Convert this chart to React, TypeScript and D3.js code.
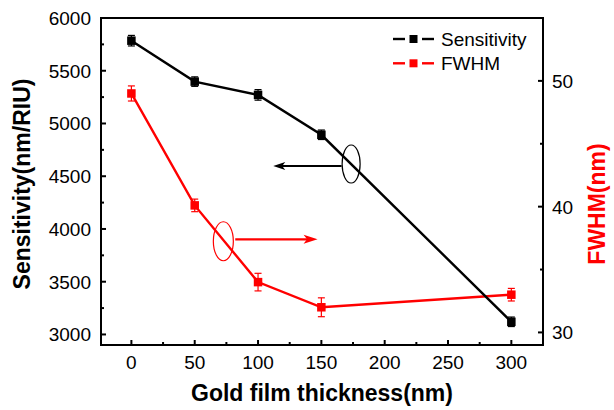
import React from "react";
import * as d3 from "d3";

const thickness = [0, 50, 100, 150, 300];
const sensitivity = [5785, 5397, 5271, 4893, 3120];
const sensitivityErr = [50, 45, 50, 45, 45];
const fwhm = [49.0, 40.1, 34.0, 32.0, 33.0];
const fwhmErr = [0.6, 0.5, 0.7, 0.75, 0.5];

const xTicks = [0, 50, 100, 150, 200, 250, 300];
const xMinor = [25, 75, 125, 175, 225, 275];
const yLeftTicks = [3000, 3500, 4000, 4500, 5000, 5500, 6000];
const yLeftMinor = [3250, 3750, 4250, 4750, 5250, 5750];
const yRightTicks = [30, 40, 50];
const yRightMinor = [35, 45];

const legendLabels = ["Sensitivity", "FWHM"];
const xTitle = "Gold film thickness(nm)";
const yLeftTitle = "Sensitivity(nm/RIU)";
const yRightTitle = "FWHM(nm)";

// annotation anchors (in data units)
const blackEllipse = { x: 173.5, y: 4616 };
const blackArrow = { x1: 166, x2: 112, y: 4597 };
const redEllipse = { x: 72.6, y: 37.25 };
const redArrow = { x1: 82, x2: 147, y: 37.4 };

const W = 614;
const H = 410;
const L = 101, R = 543, T = 18, B = 345;
const FONT = "'Liberation Sans', Arial, sans-serif";

export default function App() {
  const x = d3.scaleLinear().domain([-24, 325]).range([L, R]);
  const yL = d3.scaleLinear().domain([2900, 6000]).range([B, T]);
  const yR = d3.scaleLinear().domain([29, 55]).range([B, T]);

  const sensPts = thickness.map((t, i) => [x(t), yL(sensitivity[i])] as [number, number]);
  const fwhmPts = thickness.map((t, i) => [x(t), yR(fwhm[i])] as [number, number]);
  const line = d3.line();

  const ms = 8.5;
  const cap = 3.5;

  const renderSeries = (
    pts: [number, number][],
    errTop: number[],
    errBot: number[],
    color: string
  ) => (
    <g>
      <path d={line(pts) || ""} fill="none" stroke={color} strokeWidth={2.4} />
      {pts.map((p, i) => (
        <g key={i}>
          <line x1={p[0]} x2={p[0]} y1={errTop[i]} y2={errBot[i]} stroke={color} strokeWidth={1.2} />
          <line x1={p[0] - cap} x2={p[0] + cap} y1={errTop[i]} y2={errTop[i]} stroke={color} strokeWidth={1.2} />
          <line x1={p[0] - cap} x2={p[0] + cap} y1={errBot[i]} y2={errBot[i]} stroke={color} strokeWidth={1.2} />
          <rect x={p[0] - ms / 2} y={p[1] - ms / 2} width={ms} height={ms} fill={color} />
        </g>
      ))}
    </g>
  );

  const arrowHead = (tipX: number, y: number, dir: number, len: number, half: number, color: string) => (
    <path
      d={`M${tipX},${y} L${tipX - dir * len},${y - half} L${tipX - dir * len * 0.75},${y} L${tipX - dir * len},${y + half} Z`}
      fill={color}
    />
  );

  const bax1 = x(blackArrow.x1), bax2 = x(blackArrow.x2), bay = yL(blackArrow.y);
  const rax1 = x(redArrow.x1), rax2 = x(redArrow.x2), ray = yR(redArrow.y);

  return (
    <svg
      width={W}
      height={H}
      style={{ position: "absolute", left: 0, top: 0, background: "#fff" }}
      fontFamily={FONT}
    >
      <rect x={0} y={0} width={W} height={H} fill="#fff" />

      {/* series */}
      {renderSeries(
        fwhmPts,
        thickness.map((_, i) => yR(fwhm[i] + fwhmErr[i])),
        thickness.map((_, i) => yR(fwhm[i] - fwhmErr[i])),
        "#ff0000"
      )}
      {renderSeries(
        sensPts,
        thickness.map((_, i) => yL(sensitivity[i] + sensitivityErr[i])),
        thickness.map((_, i) => yL(sensitivity[i] - sensitivityErr[i])),
        "#000000"
      )}

      {/* annotations */}
      <ellipse cx={x(blackEllipse.x)} cy={yL(blackEllipse.y)} rx={9} ry={19} fill="none" stroke="#000" strokeWidth={1.2} />
      <line x1={bax1} x2={bax2 + 8} y1={bay} y2={bay} stroke="#000" strokeWidth={1.8} />
      {arrowHead(bax2, bay, -1, 12, 4, "#000")}

      <ellipse cx={x(redEllipse.x)} cy={yR(redEllipse.y)} rx={10} ry={19.5} fill="none" stroke="#ff0000" strokeWidth={1.2} />
      <line x1={rax1} x2={rax2 - 8} y1={ray} y2={ray} stroke="#ff0000" strokeWidth={2.4} />
      {arrowHead(rax2, ray, 1, 14, 4.5, "#ff0000")}

      {/* frame */}
      <rect x={L} y={T} width={R - L} height={B - T} fill="none" stroke="#000" strokeWidth={2} />

      {/* x ticks */}
      {xTicks.map((t) => (
        <g key={"xt" + t}>
          <line x1={x(t)} x2={x(t)} y1={B} y2={B - 5} stroke="#000" strokeWidth={2} />
          <text x={x(t)} y={369} textAnchor="middle" fontSize={19} fill="#000">
            {t}
          </text>
        </g>
      ))}
      {xMinor.map((t) => (
        <line key={"xm" + t} x1={x(t)} x2={x(t)} y1={B} y2={B - 3} stroke="#000" strokeWidth={2} />
      ))}

      {/* left ticks */}
      {yLeftTicks.map((t) => (
        <g key={"yl" + t}>
          <line x1={L} x2={L + 5} y1={yL(t)} y2={yL(t)} stroke="#000" strokeWidth={2} />
          <text x={91} y={yL(t) + 7} textAnchor="end" fontSize={19} fill="#000">
            {t}
          </text>
        </g>
      ))}
      {yLeftMinor.map((t) => (
        <line key={"ylm" + t} x1={L} x2={L + 3} y1={yL(t)} y2={yL(t)} stroke="#000" strokeWidth={2} />
      ))}

      {/* right ticks */}
      {yRightTicks.map((t) => (
        <g key={"yr" + t}>
          <line x1={R} x2={R - 5} y1={yR(t)} y2={yR(t)} stroke="#000" strokeWidth={2} />
          <text x={552} y={yR(t) + 7} textAnchor="start" fontSize={19} fill="#000">
            {t}
          </text>
        </g>
      ))}
      {yRightMinor.map((t) => (
        <line key={"yrm" + t} x1={R} x2={R - 3} y1={yR(t)} y2={yR(t)} stroke="#000" strokeWidth={2} />
      ))}

      {/* titles */}
      <text x={(L + R) / 2} y={401} textAnchor="middle" fontSize={23} fontWeight="bold" fill="#000">
        {xTitle}
      </text>
      <text
        transform={`translate(30,184) rotate(-90)`}
        textAnchor="middle"
        fontSize={23}
        fontWeight="bold"
        fill="#000"
      >
        {yLeftTitle}
      </text>
      <text
        transform={`translate(605,204) rotate(-90)`}
        textAnchor="middle"
        fontSize={23}
        fontWeight="bold"
        fill="#ff0000"
      >
        {yRightTitle}
      </text>

      {/* legend */}
      {legendLabels.map((lab, i) => {
        const ly = 39 + i * 24.3;
        const c = i === 0 ? "#000" : "#ff0000";
        return (
          <g key={lab}>
            <line x1={393} x2={405} y1={ly} y2={ly} stroke={c} strokeWidth={2.4} />
            <line x1={422} x2={434} y1={ly} y2={ly} stroke={c} strokeWidth={2.4} />
            <rect x={413.5 - 4} y={ly - 4} width={8} height={8} fill={c} />
            <text x={441} y={ly + 7} fontSize={19} fill="#000">
              {lab}
            </text>
          </g>
        );
      })}
    </svg>
  );
}
